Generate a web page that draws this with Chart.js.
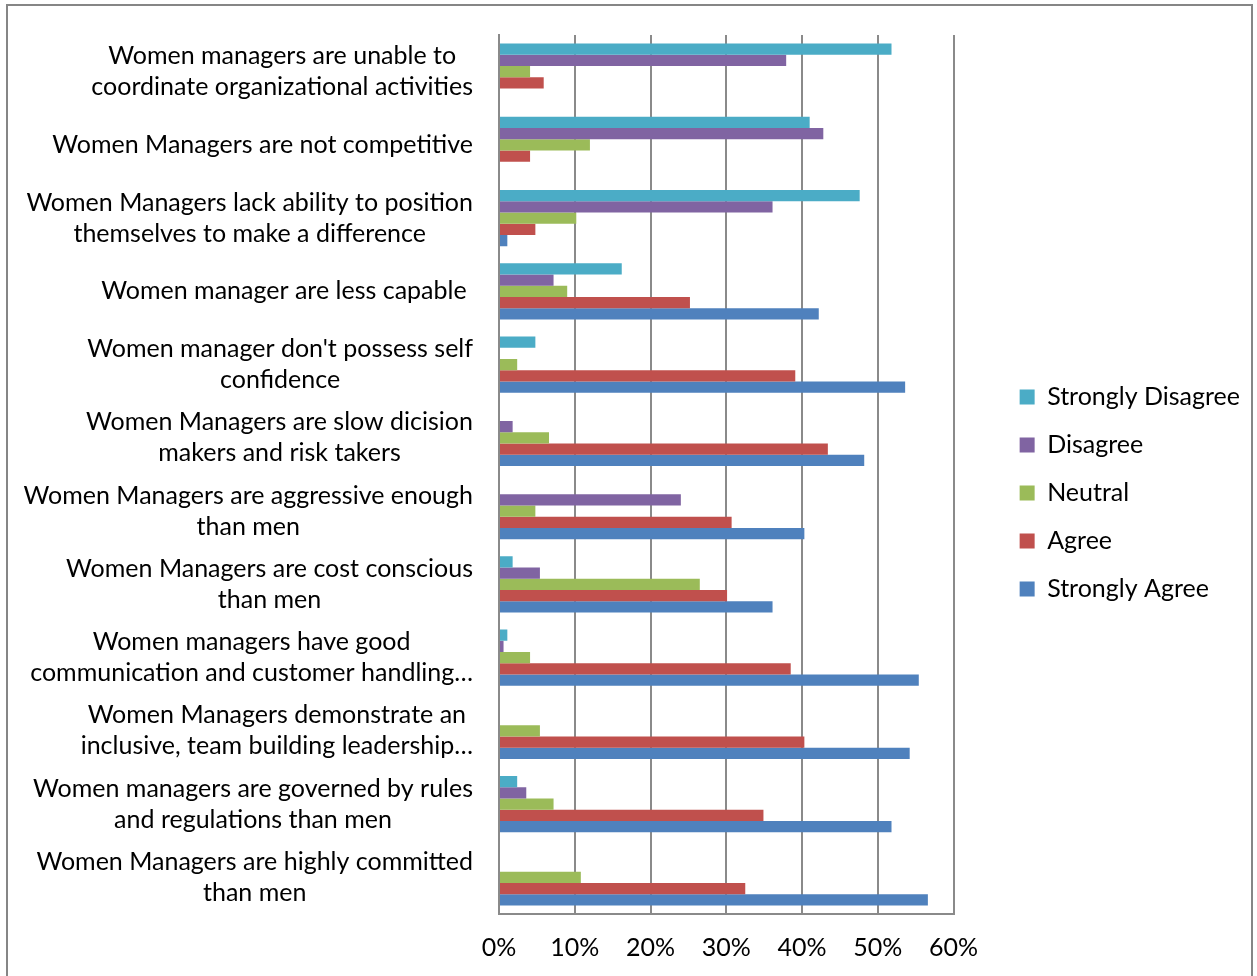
<!DOCTYPE html>
<html>
<head>
<meta charset="utf-8">
<title>Perceptions of women managers</title>
<script src="https://cdn.jsdelivr.net/npm/chart.js@4.4.1/dist/chart.umd.min.js"></script>
<style>
  html, body { margin: 0; padding: 0; background: #fff; }
  .wrap { position: relative; width: 1257px; height: 976px; overflow: hidden; }
  .frame {
    position: absolute; left: 6px; top: 4px; width: 1247px; height: 990px;
    border: 2px solid #868686; box-sizing: border-box; pointer-events: none;
  }
  canvas { display: block; }
</style>
</head>
<body>
<div class="wrap">
  <canvas id="chart" width="1257" height="976"></canvas>
  <div class="frame"></div>
</div>
<script>
// Survey statements (top to bottom)
const categories = [
  ['Women managers are unable to', 'coordinate organizational activities'],
  ['Women Managers are not competitive'],
  ['Women Managers lack ability to position', 'themselves to make a difference'],
  ['Women manager are less capable '],
  ["Women manager don't possess self", 'confidence'],
  ['Women Managers are slow dicision', 'makers and risk takers'],
  ['Women Managers are aggressive enough', 'than men'],
  ['Women Managers are cost conscious', 'than men'],
  ['Women managers have good', 'communication and customer handling…'],
  ['Women Managers demonstrate an', 'inclusive, team building leadership…'],
  ['Women managers are governed by rules', 'and regulations than men'],
  ['Women Managers are highly committed', 'than men']
];

// Share of respondents (%) per answer
const stronglyDisagree = [51.8, 41.0, 47.6, 16.2, 4.8, 0, 0, 1.8, 1.1, 0, 2.4, 0];
const disagree         = [37.9, 42.8, 36.1, 7.2, 0, 1.8, 24.0, 5.4, 0.6, 0, 3.6, 0];
const neutral          = [4.1, 12.0, 10.2, 9.0, 2.4, 6.6, 4.8, 26.5, 4.1, 5.4, 7.2, 10.8];
const agree            = [5.9, 4.1, 4.8, 25.2, 39.1, 43.4, 30.7, 30.1, 38.5, 40.3, 34.9, 32.5];
const stronglyAgree    = [0, 0, 1.1, 42.2, 53.6, 48.2, 40.3, 36.1, 55.4, 54.2, 51.8, 56.6];

const xTickLabels = ['0%', '10%', '20%', '30%', '40%', '50%', '60%'];

const FONT_SIZE = 25;
const FONT_FAMILY = 'Lato, "Open Sans", sans-serif';
const gridColor = '#8a8a8a';

Chart.defaults.font.family = FONT_FAMILY;
Chart.defaults.font.size = FONT_SIZE;
Chart.defaults.color = '#000';

// Category labels: each block right-aligned to the axis, its lines centred on each other
const statementLabels = {
  id: 'statementLabels',
  afterDraw(chart) {
    const { ctx } = chart;
    const yScale = chart.scales.y;
    const right = yScale.right - 26;
    const lineH = 31;
    ctx.save();
    ctx.font = `${FONT_SIZE}px ${FONT_FAMILY}`;
    ctx.fillStyle = '#000';
    ctx.textAlign = 'center';
    ctx.textBaseline = 'middle';
    chart.data.labels.forEach((lines, i) => {
      const cy = yScale.getPixelForValue(i);
      const widest = Math.max(...lines.map(l => ctx.measureText(l).width));
      const cx = right - widest / 2;
      const top = cy - (lines.length - 1) * lineH / 2;
      lines.forEach((l, j) => ctx.fillText(l, cx, top + j * lineH));
    });
    ctx.restore();
  }
};

// empty spacer axes, only used to hold room around the plot
const spacer = (position, size) => ({
  type: 'linear',
  position,
  ticks: { display: false },
  grid: { display: false, drawTicks: false },
  border: { display: false },
  afterFit: (scale) => {
    if (scale.isHorizontal()) scale.height = size;
    else scale.width = size;
  }
});

const ctx = document.getElementById('chart').getContext('2d');

new Chart(ctx, {
  type: 'bar',
  data: {
    labels: categories,
    datasets: [
      { label: 'Strongly Disagree', data: stronglyDisagree, backgroundColor: '#4BACC6' },
      { label: 'Disagree', data: disagree, backgroundColor: '#8064A2' },
      { label: 'Neutral', data: neutral, backgroundColor: '#9BBB59' },
      { label: 'Agree', data: agree, backgroundColor: '#C0504D' },
      { label: 'Strongly Agree', data: stronglyAgree, backgroundColor: '#4F81BD' }
    ]
  },
  options: {
    indexAxis: 'y',
    responsive: false,
    animation: false,
    datasets: {
      bar: { barPercentage: 1, categoryPercentage: 0.77 }
    },
    layout: { padding: { top: 20, bottom: 10, left: 0, right: 7 } },
    scales: {
      x: {
        min: 0,
        max: 60,
        ticks: {
          stepSize: 10,
          padding: 19,
          callback: (v, i) => xTickLabels[i]
        },
        grid: { color: gridColor, lineWidth: 2, drawTicks: false },
        border: { color: gridColor, width: 2 },
        afterFit: (scale) => { scale.height = 52; }
      },
      y: {
        ticks: { display: false },
        grid: { display: false, drawTicks: false },
        border: { color: gridColor, width: 2 },
        afterFit: (scale) => { scale.width = 499; }
      },
      gapTop: spacer('top', 15),
      gapRight: spacer('right', 43)
    },
    plugins: {
      tooltip: { enabled: false },
      legend: {
        position: 'right',
        maxWidth: 320,
        labels: {
          boxWidth: 15,
          boxHeight: 15,
          padding: 23,
          color: '#000',
          font: { size: FONT_SIZE }
        }
      }
    }
  },
  plugins: [statementLabels]
});
</script>
</body>
</html>
